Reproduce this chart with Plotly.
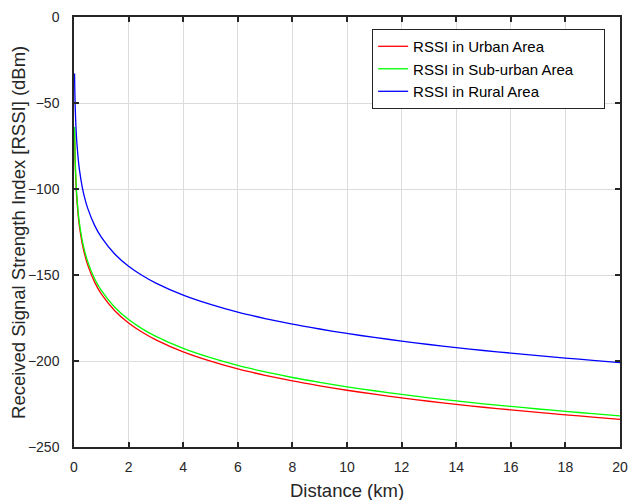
import plotly.graph_objects as go

distance_km = [0.02, 0.03, 0.04, 0.05, 0.07, 0.1, 0.15, 0.2, 0.3, 0.4, 0.5, 0.75, 1, 1.5, 2, 2.5, 3, 4, 5, 6, 7, 8, 9, 10,
               11, 12, 13, 14, 15, 16, 17, 18, 19, 20]
rssi_urban = [-65.9, -75.7, -82.7, -88.1, -96.3, -105.0, -114.9, -121.9, -131.7, -138.7, -144.1, -154.0, -161.0, -170.9,
              -177.9, -183.3, -187.7, -194.7, -200.1, -204.6, -208.3, -211.6, -214.4, -217.0,
              -219.3, -221.4, -223.4, -225.2, -226.9, -228.4, -229.9, -231.3, -232.6, -233.9]
rssi_suburban = [-63.9, -73.7, -80.7, -86.1, -94.3, -103.0, -112.9, -119.9, -129.7, -136.7, -142.1, -152.0, -159.0, -168.9,
                 -175.9, -181.3, -185.7, -192.7, -198.1, -202.6, -206.3, -209.6, -212.4, -215.0,
                 -217.3, -219.4, -221.4, -223.2, -224.9, -226.4, -227.9, -229.3, -230.6, -231.9]
rssi_rural = [-32.9, -42.7, -49.7, -55.1, -63.3, -72.0, -81.9, -88.9, -98.7, -105.7, -111.1, -121.0, -128.0, -137.9,
              -144.9, -150.3, -154.7, -161.7, -167.1, -171.6, -175.3, -178.6, -181.4, -184.0,
              -186.3, -188.4, -190.4, -192.2, -193.9, -195.4, -196.9, -198.3, -199.6, -200.9]

series_names = ["RSSI in Urban Area", "RSSI in Sub-urban Area", "RSSI in Rural Area"]
series_values = [rssi_urban, rssi_suburban, rssi_rural]
series_colors = ["#ff0000", "#00ff00", "#0000ff"]

x_ticks = list(range(0, 21, 2))
y_ticks = [0, -50, -100, -150, -200, -250]
x_title = "Distance (km)"
y_title = "Received Signal Strength Index [RSSI] (dBm)"

FONT = "Liberation Sans, Arial, sans-serif"
PAD = "\u00a0" * 6

fig = go.Figure()
for name, vals, col in zip(series_names, series_values, series_colors):
    fig.add_trace(go.Scatter(x=distance_km, y=vals, mode="lines", name=name + PAD,
                             line=dict(color=col, width=1.3, shape="spline", smoothing=0.6)))

axis_common = dict(
    showline=True, linecolor="#262626", linewidth=1.5, mirror="ticks",
    ticks="inside", ticklen=5, tickwidth=1.5, tickcolor="#262626",
    showgrid=True, gridcolor="#dcdcdc", gridwidth=1, zeroline=False, automargin=False,
    tickfont=dict(family=FONT, size=14, color="#262626"),
)

fig.update_layout(
    width=628, height=500,
    margin=dict(l=74, r=8, t=17, b=53),
    paper_bgcolor="white", plot_bgcolor="white",
    font=dict(family=FONT, color="#262626"),
    xaxis=dict(range=[0, 20], tickvals=x_ticks, ticklabelstandoff=6, **axis_common),
    yaxis=dict(range=[-250, 0], tickvals=y_ticks, ticklabelstandoff=10, **axis_common),
    legend=dict(x=0.546, y=0.972, xanchor="left", yanchor="top", bgcolor="white",
                bordercolor="#262626", borderwidth=1, font=dict(size=15, color="black"),
                tracegroupgap=0),
    showlegend=True,
    annotations=[
        dict(text=x_title, xref="paper", yref="paper", x=0.5, y=-0.1, xanchor="center", yanchor="middle",
             showarrow=False, font=dict(family=FONT, size=18.5, color="#262626")),
        dict(text=y_title, xref="paper", yref="paper", x=-0.1026, y=0.5, xanchor="center", yanchor="middle",
             textangle=-90, showarrow=False, font=dict(family=FONT, size=18.5, color="#262626")),
    ],
)

fig.write_html("out.html", config={"displayModeBar": False},
               post_script="document.body.style.margin='0';document.body.style.overflow='hidden';")
